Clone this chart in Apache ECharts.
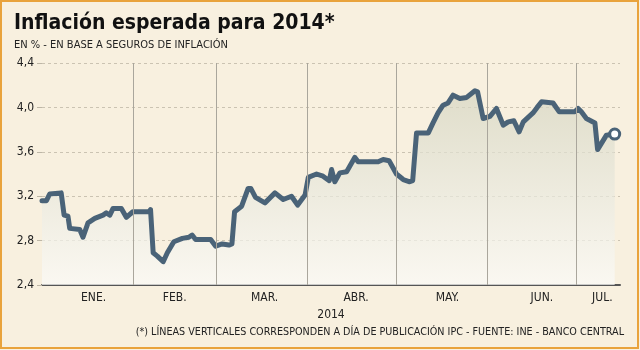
<!DOCTYPE html>
<html>
<head>
<meta charset="utf-8">
<script src="https://cdn.jsdelivr.net/npm/echarts@6/dist/echarts.min.js"></script>
<style>
html,body{margin:0;padding:0;background:#f8f0df;}
#chart{width:640px;height:350px;}
</style>
</head>
<body>
<div id="chart"></div>
<script>
// Day offsets from 1 Jan 2014
const days = [0, 1.5, 2.6, 6.5, 7.1, 7.5, 8.8, 9.4, 12.8, 13.9, 15.6, 17.9, 20.7, 21.8, 23, 24.1, 26.9, 28.6, 30.8,
  36.3, 36.8, 37.7, 39.1, 41.1, 42.5, 44.7, 47.6, 49.8, 50.9, 52.1, 57.2, 58.9, 61.1, 63.4, 64.4,
  65.3, 67.7, 69.9, 70.8, 72.4, 75.6, 79, 81.8, 84.6, 86.7, 89.2, 90.3, 93.1, 95.3, 97.4, 98.2, 99.3,
  101, 103.3, 106.1, 107.2, 114, 115.7, 117.7, 120.2, 122.5, 124.7, 125.7, 127, 131, 132.6, 134.3,
  136, 137.7, 139.4, 141.7, 144, 146.8, 147.7, 149.6, 151.9, 154.1, 156.4, 158.1, 160, 161.8, 163.2,
  166.5, 167.9, 169.4, 173.3, 175.4, 180.7, 181.8, 182.9, 184.6, 187.5, 188.4, 191.4, 194.2];
const inflation = [3.16, 3.16, 3.22, 3.23, 3.24, 3.03, 3.02, 2.91, 2.90, 2.83, 2.96, 3.00, 3.03, 3.05, 3.03, 3.09, 3.09, 3.01, 3.06,
  3.06, 3.08, 2.69, 2.66, 2.61, 2.69, 2.79, 2.82, 2.83, 2.85, 2.81, 2.81, 2.75, 2.77, 2.76, 2.77,
  3.06, 3.11, 3.27, 3.27, 3.19, 3.14, 3.23, 3.17, 3.20, 3.12, 3.21, 3.37, 3.40, 3.38, 3.34, 3.44, 3.33,
  3.41, 3.42, 3.55, 3.51, 3.51, 3.53, 3.52, 3.40, 3.35, 3.33, 3.34, 3.77, 3.77, 3.86, 3.95,
  4.02, 4.04, 4.11, 4.08, 4.09, 4.15, 4.14, 3.90, 3.92, 3.99, 3.84, 3.87, 3.88, 3.78, 3.87,
  3.95, 4.00, 4.05, 4.04, 3.96, 3.96, 3.99, 3.96, 3.90, 3.86, 3.62, 3.75, 3.76];
const ipcDays = [31, 59, 90, 120, 151, 181];
const monthLabels = ['ENE.', 'FEB.', 'MAR.', 'ABR.', 'MAY.', 'JUN.', 'JUL.'];
const monthPos = [17.5, 45, 75.5, 106.5, 137.5, 169.5, 190];

const FONT = "'DejaVu Sans Condensed', 'DejaVu Sans', sans-serif";
const LINE = '#4a6378';
const chart = echarts.init(document.getElementById('chart'), null, {renderer: 'canvas'});
const last = days.length - 1;
chart.setOption({
  backgroundColor: '#f8f0df',
  animation: false,
  textStyle: {fontFamily: FONT},
  title: [
    {text: 'Inflación esperada para 2014*', left: 14, top: 13, padding: 0,
     textStyle: {fontFamily: FONT, fontSize: 21, fontWeight: 'bold', color: '#111'}},
    {text: 'EN % - EN BASE A SEGUROS DE INFLACIÓN', left: 14, top: 40, padding: 0,
     textStyle: {fontFamily: FONT, fontSize: 11, fontWeight: 'normal', color: '#222'}},
    {text: '(*) LÍNEAS VERTICALES CORRESPONDEN A DÍA DE PUBLICACIÓN IPC - FUENTE: INE - BANCO CENTRAL', right: 16, top: 327, padding: 0,
     textStyle: {fontFamily: FONT, fontSize: 10.7, fontWeight: 'normal', color: '#222'}}
  ],
  graphic: [{type: 'rect', silent: true, z: 100,
    shape: {x: 1, y: 1, width: 637, height: 347},
    style: {fill: 'none', stroke: '#e9a33c', lineWidth: 2}}],
  grid: {left: 42, right: 20, top: 63, bottom: 65},
  xAxis: {
    type: 'value', min: 0, max: 196,
    name: '2014', nameLocation: 'middle', nameGap: 24,
    nameTextStyle: {fontFamily: FONT, fontSize: 12, color: '#222'},
    axisLine: {show: true, lineStyle: {color: '#555', width: 2}},
    axisTick: {show: false},
    splitLine: {show: false},
    axisLabel: {customValues: monthPos, margin: 7, fontFamily: FONT, fontSize: 12, color: '#222',
      formatter: v => { const i = monthPos.indexOf(v); return i >= 0 ? monthLabels[i] : ''; }}
  },
  yAxis: {
    type: 'value', min: 2.4, max: 4.4, interval: 0.4,
    axisLine: {show: false},
    axisTick: {show: true, length: 5, lineStyle: {color: '#bdb6a6'}},
    splitLine: {show: true, lineStyle: {color: '#cbc3b2', type: [3, 3], width: 1}},
    axisLabel: {margin: 8, fontFamily: FONT, fontSize: 12, color: '#222',
      formatter: v => v.toFixed(1).replace('.', ',')}
  },
  series: [
    {type: 'line', data: [], z: 1, silent: true,
     markLine: {silent: true, symbol: 'none', label: {show: false},
       lineStyle: {color: '#aaa69c', type: 'solid', width: 1},
       data: ipcDays.map(d => ({xAxis: d}))}},
    {type: 'line', z: 3,
     data: days.map((d, i) => [d, inflation[i]]),
     showAllSymbol: true,
     symbol: (v, p) => p.dataIndex === last ? 'circle' : 'none',
     symbolSize: 10,
     itemStyle: {color: '#ffffff', borderColor: LINE, borderWidth: 3},
     lineStyle: {color: LINE, width: 5, join: 'round', cap: 'round'},
     areaStyle: {color: new echarts.graphic.LinearGradient(0, 0, 0, 1, [
       {offset: 0, color: '#d5d5c1'}, {offset: 1, color: '#fbfbf9'}])}
    }
  ]
});
</script>
</body>
</html>
